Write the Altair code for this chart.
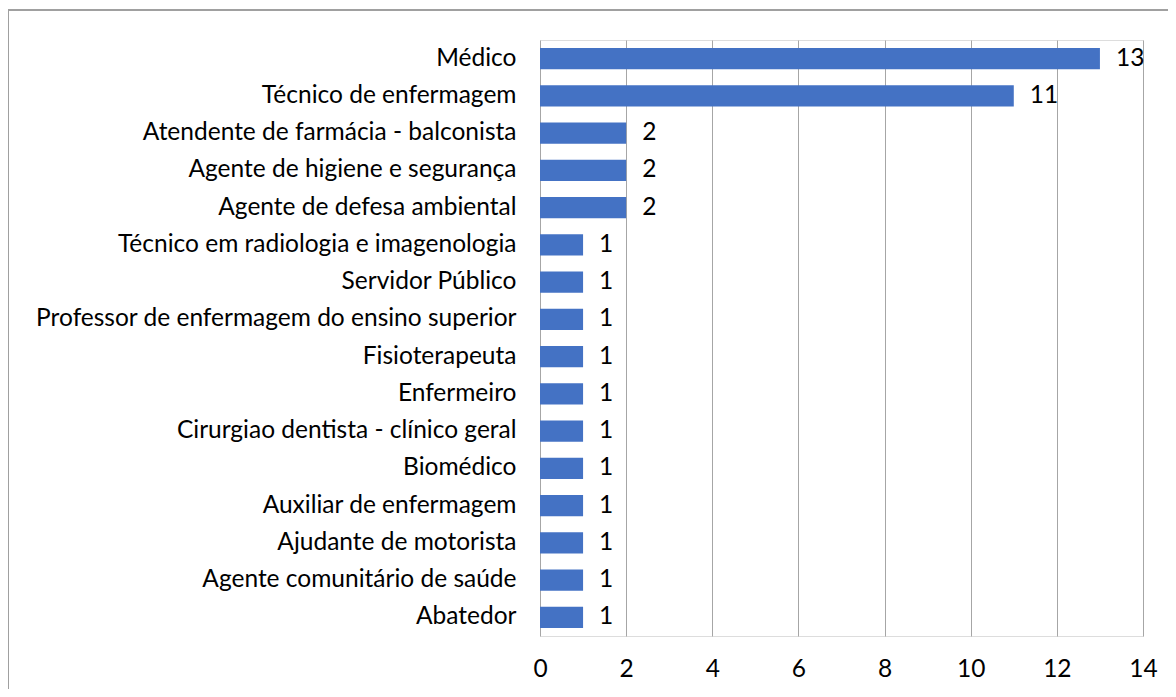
import altair as alt
import pandas as pd

categories = [
    "Médico",
    "Técnico de enfermagem",
    "Atendente de farmácia - balconista",
    "Agente de higiene e segurança",
    "Agente de defesa ambiental",
    "Técnico em radiologia e imagenologia",
    "Servidor Público",
    "Professor de enfermagem do ensino superior",
    "Fisioterapeuta",
    "Enfermeiro",
    "Cirurgiao dentista - clínico geral",
    "Biomédico",
    "Auxiliar de enfermagem",
    "Ajudante de motorista",
    "Agente comunitário de saúde",
    "Abatedor",
]
values = [13, 11, 2, 2, 2, 1, 1, 1, 1, 1, 1, 1, 1, 1, 1, 1]
x_ticks = [0, 2, 4, 6, 8, 10, 12, 14]

df = pd.DataFrame({"cat": categories, "val": values})
FONT = "Lato"
FS = 24.5

y_enc = alt.Y("cat:N", sort=categories, title=None,
              scale=alt.Scale(paddingInner=0.43, paddingOuter=0.215),
              axis=alt.Axis(domain=False, ticks=False, grid=False, labelPadding=24,
                            labelFontSize=FS, labelFont=FONT, labelColor="#000000",
                            labelLimit=600))
x_enc = alt.X("val:Q", title=None,
              scale=alt.Scale(domain=[0, 14], nice=False),
              axis=alt.Axis(values=x_ticks, domain=False, ticks=False, grid=True,
                            gridColor="#a6a6a6", gridWidth=1, gridOpacity=1,
                            labelPadding=21, labelFontSize=FS, labelFont=FONT,
                            labelColor="#000000", labelFlush=False, orient="bottom"))

bars = alt.Chart(df).mark_bar(color="#4472C4").encode(x=x_enc, y=y_enc)
labels = alt.Chart(df).mark_text(align="left", baseline="middle", dx=16,
                                 fontSize=FS, font=FONT, color="#000000").encode(
    x="val:Q", y=alt.Y("cat:N", sort=categories), text="val:Q")

frame_v = alt.Chart(df).mark_rule(color="#a0a0a0", strokeWidth=1.5).encode(
    x=alt.value(-532), y=alt.value(-30), y2=alt.value(700))
frame_h = alt.Chart(df).mark_rule(color="#a0a0a0", strokeWidth=1.5).encode(
    x=alt.value(-532), x2=alt.value(700), y=alt.value(-30))

chart = alt.layer(bars, labels, frame_v, frame_h).properties(
    width=603, height=596,
    autosize=alt.AutoSizeParams(type="none"),
    padding={"left": 532, "top": 32, "right": 25, "bottom": 53},
).configure_view(stroke=None).configure(background="#ffffff")

chart.save("out.html", embed_options={"renderer": "svg", "actions": False})
